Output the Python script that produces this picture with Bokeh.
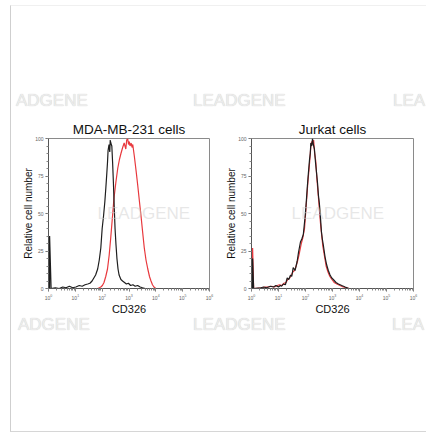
from bokeh.plotting import figure
from bokeh.models import Range1d, FixedTicker, Label, LogTicker, Div
from bokeh.layouts import row, column
from bokeh.embed import file_html
from bokeh.resources import INLINE

# ---------------- data ----------------
titles = ["MDA-MB-231 cells", "Jurkat cells"]
x_label = "CD326"
y_label = "Relative cell number"
y_ticks = [0, 25, 50, 75, 100]
watermark = "LEADGENE"
watermark_left_part = "ADGENE"
watermark_right_part = "LEA"

# MDA-MB-231 : isotype (black) and CD326 (red)
mda_black_x = [1.1, 1.1, 1.25, 1.8, 2.5, 3.4, 4.5, 6, 8, 10.5, 14, 18, 23, 29, 35, 42, 49, 57, 68, 78,
               89, 100, 112, 126, 137, 148, 158, 166, 180, 192, 200, 210, 229, 245, 263, 282, 302, 328,
               355, 390, 427, 500, 575, 680, 800, 950, 1150, 1400, 1700, 2100, 2600, 3200, 4000, 5000]
mda_black_y = [0, 35, 0, 0.5, 0, 1, 0.5, 1.5, 0.5, 1, 2, 1.5, 2.5, 3, 3.5, 5, 7, 9, 13, 19,
               27, 40, 48, 58, 67, 76, 84, 92, 96, 91, 99, 97, 95, 84, 70, 54, 40, 29,
               20, 13, 9, 6, 5, 4, 3, 3.5, 2, 2.5, 1.5, 2, 1, 0.5, 0, 0]
mda_red_x = [60, 68, 78, 89, 102, 117, 136, 158, 182, 209, 240, 275, 325, 380, 440, 501, 580, 661,
             760, 820, 891, 960, 1020, 1096, 1200, 1300, 1380, 1480, 1585, 1850, 2138, 2450, 2818,
             3250, 3715, 4300, 5012, 5800, 6607, 7500, 8511, 10000, 12000]
mda_red_y = [0, 0, 0.5, 1, 2, 4, 8, 13, 22, 34, 47, 60, 71, 80, 86, 90, 94, 97,
             93, 99, 100, 96, 98, 95, 97, 94, 96, 92, 88, 78, 68, 58, 48,
             37, 27, 19, 13, 8, 5, 2.5, 1, 0, 0]

# Jurkat : isotype (black) and CD326 (red)
jur_black_x = [1.1, 1.1, 1.2, 2.2, 2.8, 3.6, 5, 6.5, 8, 10, 11.7, 13, 15, 18, 21, 24, 28, 31, 35, 41,
               49, 55, 65, 73, 83, 98, 107, 117, 128, 141, 150, 158, 170, 182, 195, 214, 235, 257,
               280, 302, 325, 347, 389, 420, 457, 530, 603, 700, 813, 940, 1072, 1350, 1660, 2200,
               2951, 3981, 5000]
jur_black_y = [0, 20, 0, 0.5, 1, 0.5, 1.5, 1, 2, 1, 2, 1.5, 3, 2.5, 7, 6, 9, 8, 14, 12,
               18, 24, 31, 33, 36, 49, 58, 68, 77, 86, 90, 97, 95, 100, 96, 93, 84, 77,
               70, 62, 57, 51, 38, 33, 29, 21, 16, 12, 9, 7, 6, 4, 3, 2,
               1, 0, 0]
jur_red_x = [1.1, 1.1, 1.2, 2.5, 3.2, 4.2, 5.5, 7, 9, 11, 13.5, 16, 19, 22, 26, 30, 34, 39, 45, 52,
             60, 70, 80, 92, 103, 113, 124, 136, 148, 160, 172, 185, 200, 218, 240, 262, 285, 310,
             335, 365, 400, 440, 500, 580, 680, 800, 950, 1150, 1450, 1900, 2500, 3300, 4200]
jur_red_y = [0, 27, 0, 0.5, 1, 1, 1.5, 1, 2, 2.5, 2, 3.5, 4, 6, 7, 9, 11, 12, 15, 19,
             24, 30, 34, 40, 52, 62, 72, 80, 88, 96, 98, 96, 99, 90, 85, 74, 66, 58,
             50, 42, 35, 28, 22, 15, 11, 8, 6, 4, 3, 2, 1, 0.5, 0]

BLACK = "#1e1e1e"
RED = "#e8383d"
FONT = "Liberation Sans"

# ---------------- layout geometry (page pixels) ----------------
ORIGIN_X, ORIGIN_Y = 11, 6          # content origin inside the light frame
CONTENT_W, CONTENT_H = 415, 423
FRAME_TOP, FRAME_H = 137, 150
TITLE_BAND = 19
AXIS_BAND = 28
TOP_H = FRAME_TOP - ORIGIN_Y - TITLE_BAND
FIG_H = TITLE_BAND + FRAME_H + AXIS_BAND
BOTTOM_H = CONTENT_H - TOP_H - FIG_H

panels = [
    dict(canvas_left=11, fl=48, fr=209, right=217, title_off=-3),
    dict(canvas_left=217, fl=251, fr=413, right=426, title_off=-2),
]
# watermark anchors (page px: left edge, vertical centre, text)
wm_top = [(16, 100, watermark_left_part), (193, 100, watermark), (393, 100, watermark_right_part)]
wm_mid = [(97, 212), (291, 212)]
wm_bot = [(18, 322, watermark_left_part), (193, 322, watermark), (392, 322, watermark_right_part)]

series = [
    [(mda_red_x, mda_red_y, RED), (mda_black_x, mda_black_y, BLACK)],
    [(jur_red_x, jur_red_y, RED), (jur_black_x, jur_black_y, BLACK)],
]


def make_panel(i):
    g = panels[i]
    fw = g["fr"] - g["fl"]
    p = figure(
        x_axis_type="log",
        x_range=Range1d(1, 1e6),
        y_range=Range1d(0, 100),
        frame_width=fw,
        frame_height=FRAME_H,
        min_border_left=g["fl"] - g["canvas_left"],
        min_border_right=g["right"] - g["fr"],
        min_border_top=TITLE_BAND,
        min_border_bottom=AXIS_BAND,
        output_backend="svg",
        toolbar_location=None,
        background_fill_color="white",
        border_fill_color="white",
        outline_line_color="#8a8a8a",
        outline_line_width=1,
        title=titles[i],
    )
    p.grid.visible = False
    p.title.align = "center"
    p.title.offset = g["title_off"]
    p.title.standoff = 3
    p.title.text_font = FONT
    p.title.text_font_style = "normal"
    p.title.text_font_size = "13.5px"
    p.title.text_color = "#111111"

    for xs, ys, c in series[i]:
        p.line(xs, ys, line_color=c, line_width=1.2)

    # faint watermark inside the frame
    dec = fw / 6.0
    ypx = FRAME_H / 100.0
    fb = FRAME_TOP + FRAME_H
    for (px, py) in wm_mid:
        if g["fl"] < px < g["fr"] - 90:
            p.add_layout(Label(x=10 ** ((px - g["fl"]) / dec), y=(fb - py) / ypx, text=watermark,
                               text_align="left", text_baseline="middle", text_font=FONT,
                               text_font_size="17px", text_color="#cfcfcf", text_alpha=0.5))

    p.xaxis.ticker = LogTicker(num_minor_ticks=10)
    p.yaxis.ticker = FixedTicker(ticks=y_ticks, minor_ticks=list(range(0, 101, 5)))
    p.xaxis.axis_label = x_label
    p.yaxis.axis_label = y_label
    for ax in (p.xaxis, p.yaxis):
        ax.axis_label_text_font = FONT
        ax.axis_label_text_font_style = "normal"
        ax.axis_label_text_color = "#111111"
        ax.major_label_text_font = FONT
        ax.major_label_text_font_size = "5px"
        ax.major_label_text_color = "#666666"
        ax.axis_line_color = "#555555"
        ax.major_tick_line_color = "#666666"
        ax.minor_tick_line_color = "#888888"
        ax.major_tick_out = 3
        ax.major_tick_in = 0
        ax.minor_tick_out = 2
        ax.minor_tick_in = 0
        ax.major_label_standoff = 2
    p.xaxis.axis_label_text_font_size = "11px"
    p.yaxis.axis_label_text_font_size = "10px"
    p.xaxis.axis_label_standoff = 0
    p.yaxis.axis_label_standoff = -2
    return p


def wm_div(points, top_page, height):
    spans = []
    for (px, py, txt) in points:
        left = px - ORIGIN_X
        top = py - top_page - 8.5
        spans.append(
            f'<span style="position:absolute;left:{left}px;top:{top}px;font-family:\'{FONT}\';'
            f'font-size:17px;line-height:17px;white-space:nowrap;color:#ececec;'
            f'text-shadow:0 0 1px #c4c4c4;">{txt}</span>')
    html = (f'<div style="position:relative;width:{CONTENT_W}px;height:{height}px;">'
            + "".join(spans) + "</div>")
    return Div(text=html, width=CONTENT_W, height=height, margin=0,
               styles={"overflow": "visible"})


p1 = make_panel(0)
p2 = make_panel(1)

top_div = wm_div(wm_top, ORIGIN_Y, TOP_H)
bot_div = wm_div(wm_bot, ORIGIN_Y + TOP_H + FIG_H, BOTTOM_H)

layout = column(top_div, row(p1, p2), bot_div,
                styles={"margin-left": "10px", "margin-top": "5px",
                        "border-left": "1px solid #cfcfcf", "border-top": "1px solid #f0f0f0",
                        "border-bottom": "1px solid #d6d6d6"})

open("out.html", "w").write(file_html(layout, INLINE))
